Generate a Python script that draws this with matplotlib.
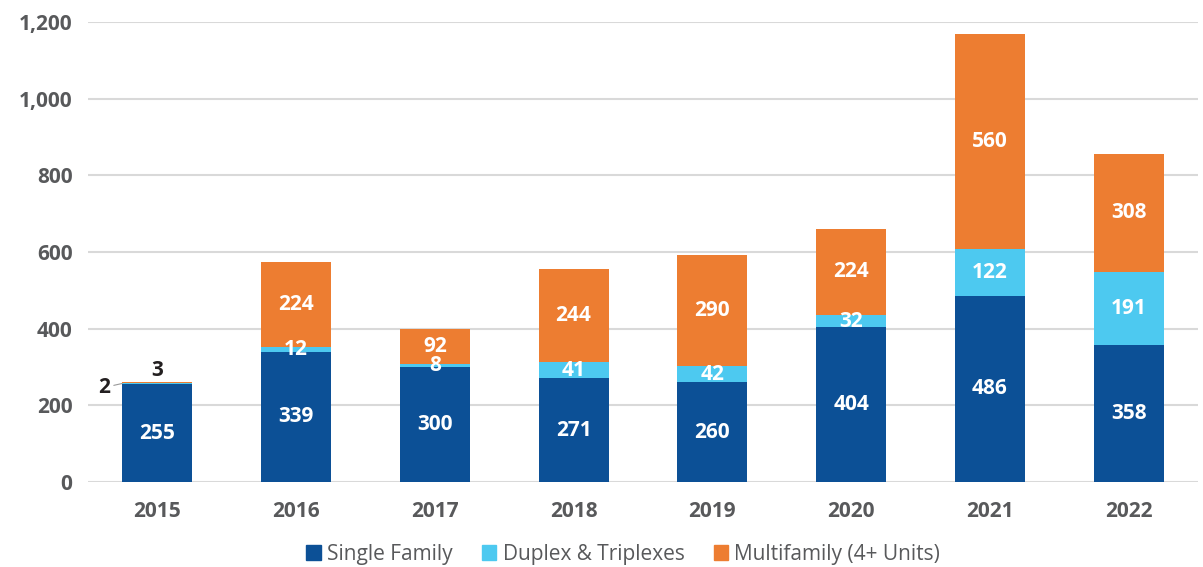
import matplotlib
matplotlib.use('Agg')
from matplotlib import pyplot as plt
from matplotlib.patches import Patch
import numpy as np

# данные
years = ['2015', '2016', '2017', '2018', '2019', '2020', '2021', '2022']
single_family = [255, 339, 300, 271, 260, 404, 486, 358]
duplex = [2, 12, 8, 41, 42, 32, 122, 191]
multifamily = [3, 224, 92, 244, 290, 224, 560, 308]
series_names = ['Single Family', 'Duplex & Triplexes', 'Multifamily (4+ Units)']
yticks = [0, 200, 400, 600, 800, 1000, 1200]

c_single = '#0c5096'
c_duplex = '#4dc9f0'
c_multi = '#ed7d31'
grey = '#58595b'

plt.rcParams['font.family'] = ['Open Sans', 'DejaVu Sans']

fig = plt.figure(figsize=(12.03, 5.67), dpi=100)
ax = fig.add_axes([0.073, 0.150, 0.923, 0.811])

x = np.arange(len(years))
w = 0.505
ax.bar(x, single_family, w, color=c_single, zorder=3)
bottom2 = np.array(single_family)
ax.bar(x, duplex, w, bottom=bottom2, color=c_duplex, zorder=3)
bottom3 = bottom2 + np.array(duplex)
ax.bar(x, multifamily, w, bottom=bottom3, color=c_multi, zorder=3)

# подписи внутри сегментов (кроме 2015 для мелких)
for i in range(len(years)):
    segs = [(single_family[i], 0), (duplex[i], bottom2[i]), (multifamily[i], bottom3[i])]
    for k, (val, base) in enumerate(segs):
        if i == 0 and k > 0:
            continue
        ax.text(x[i], base + val / 2, str(val), ha='center', va='center',
                color='white', fontsize=15, fontweight='bold', zorder=4)

# 2015: маленькие значения снаружи
ax.annotate(str(duplex[0]), xy=(x[0] - w / 2, bottom2[0] + duplex[0]),
            xytext=(-9, -3), textcoords='offset points', ha='right', va='center',
            fontsize=15, fontweight='bold', color='#231f20',
            arrowprops=dict(arrowstyle='-', color='#999999', lw=0.8, shrinkA=1, shrinkB=0))
ax.text(x[0], bottom3[0] + multifamily[0] + 3, str(multifamily[0]), ha='center', va='bottom',
        fontsize=15, fontweight='bold', color='#231f20')

ax.set_xlim(-0.5, len(years) - 0.5)
ax.set_ylim(0, 1200)
ax.set_yticks(yticks)
ax.set_yticklabels(['{:,}'.format(t) for t in yticks])
ax.set_xticks(x)
ax.set_xticklabels(years)
ax.grid(axis='y', color='#d9d9d9', linewidth=1.5, zorder=0)
ax.set_axisbelow(True)
for s in ax.spines.values():
    s.set_visible(False)
ax.tick_params(axis='both', length=0, labelsize=15, labelcolor=grey)
ax.tick_params(axis='y', pad=11)
ax.tick_params(axis='x', pad=14)
for lbl in ax.get_xticklabels() + ax.get_yticklabels():
    lbl.set_fontweight('bold')

handles = [Patch(color=c_single), Patch(color=c_duplex), Patch(color=c_multi)]
leg = fig.legend(handles, series_names, loc='center', bbox_to_anchor=(0.518, 0.022),
                 ncol=3, frameon=False, fontsize=15, handlelength=0.7, handleheight=0.7,
                 handletextpad=0.3, columnspacing=1.4)
for t in leg.get_texts():
    t.set_color(grey)

fig.savefig('out.png', dpi=100)
